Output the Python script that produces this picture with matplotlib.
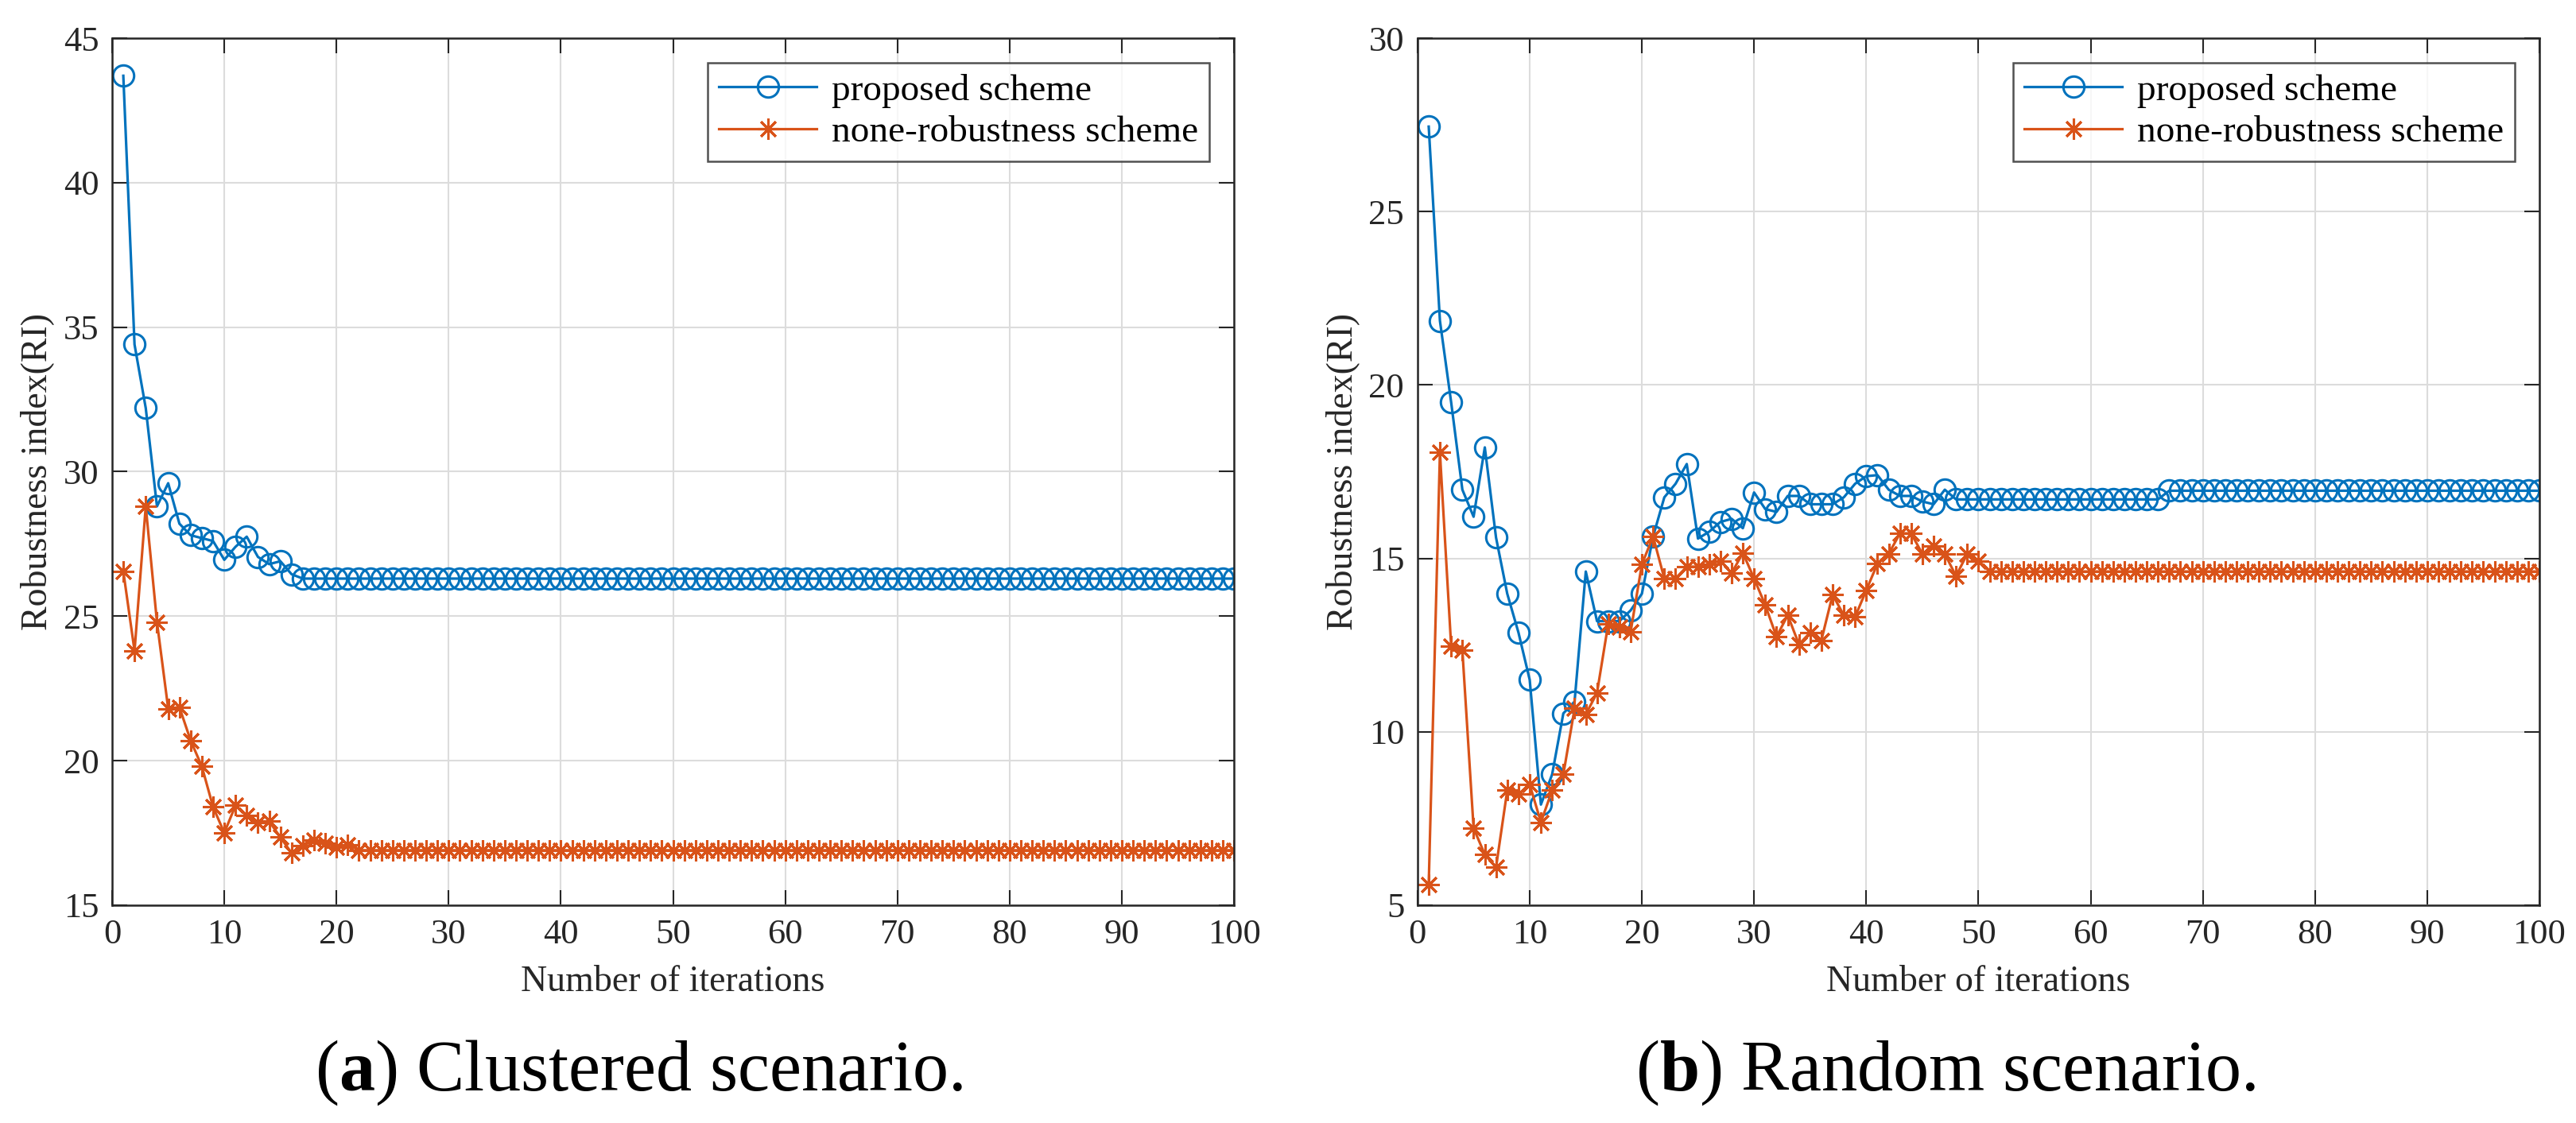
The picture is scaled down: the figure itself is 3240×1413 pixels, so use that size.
import numpy as np
import matplotlib
matplotlib.use("Agg")
import matplotlib.pyplot as plt

iterations = np.arange(1, 101)

# (a) clustered scenario
clustered_proposed = [43.7, 34.4, 32.2, 28.8, 29.6, 28.2, 27.8, 27.7, 27.6, 26.95,
                      27.4, 27.75, 27.05, 26.8, 26.9, 26.45] + [26.3] * 84
clustered_none = [26.55, 23.8, 28.8, 24.8, 21.8, 21.85, 20.7, 19.8, 18.4, 17.5,
                  18.45, 18.1, 17.85, 17.9, 17.35, 16.8, 17.05, 17.25, 17.15, 17.0,
                  17.1] + [16.9] * 79

# (b) random scenario
random_proposed = [27.45, 21.85, 19.5, 16.98, 16.2, 18.2, 15.6, 13.98, 12.86, 11.5,
                   7.9, 8.77, 10.53, 10.87, 14.62, 13.19, 13.19, 13.19, 13.5, 13.98,
                   15.63, 16.76, 17.15, 17.72, 15.57, 15.77, 16.05, 16.14, 15.87, 16.9,
                   16.42, 16.34, 16.8, 16.8, 16.56, 16.56, 16.56, 16.76, 17.15, 17.37,
                   17.4, 16.98, 16.8, 16.8, 16.64, 16.56, 16.98] + [16.7] * 19 + [16.95] * 34
random_none = [5.59, 18.05, 12.47, 12.35, 7.22, 6.46, 6.09, 8.31, 8.2, 8.48,
               7.39, 8.31, 8.77, 10.67, 10.5, 11.12, 13.11, 13.03, 12.89, 14.83,
               15.63, 14.42, 14.42, 14.76, 14.76, 14.83, 14.93, 14.57, 15.16, 14.42,
               13.65, 12.74, 13.36, 12.52, 12.86, 12.64, 13.95, 13.36, 13.31, 14.08,
               14.85, 15.13, 15.72, 15.72, 15.13, 15.35, 15.13, 14.49, 15.13, 14.93] + [14.62] * 50

labels = ['proposed scheme', 'none-robustness scheme']
captions = [('a', ' Clustered scenario.'), ('b', ' Random scenario.')]

blue = '#0072BD'
orange = '#D95319'
serif = ['Liberation Serif', 'DejaVu Serif']
plt.rcParams['font.family'] = serif
plt.rcParams['mathtext.fontset'] = 'custom'
plt.rcParams['mathtext.rm'] = 'Liberation Serif'
plt.rcParams['mathtext.bf'] = 'Liberation Serif:bold'

fig = plt.figure(figsize=(32.41, 14.13), dpi=100)
ax1 = fig.add_axes([0.0435, 0.194, 0.4354, 0.772])
ax2 = fig.add_axes([0.5501, 0.194, 0.4354, 0.772])

asterisk = (8, 2, 0)
panels = [
    (ax1, clustered_proposed, clustered_none, (15, 45), np.arange(15, 46, 5)),
    (ax2, random_proposed, random_none, (5, 30), np.arange(5, 31, 5)),
]

for ax, prop, none, ylim, yticks in panels:
    ax.plot(iterations, prop, color=blue, lw=2.3, marker='o', ms=19,
            mfc='none', mec=blue, mew=2.2, label=labels[0])
    ax.plot(iterations, none, color=orange, lw=2.3, marker=asterisk, ms=19,
            mec=orange, mew=2.2, label=labels[1])
    ax.set_xlim(0, 100)
    ax.set_ylim(*ylim)
    ax.set_xticks(np.arange(0, 101, 10))
    ax.set_yticks(yticks)
    ax.grid(True, color='#dcdcdc', lw=1.5)
    ax.set_axisbelow(True)
    ax.tick_params(direction='in', length=14, width=1.5, top=True, right=True,
                   labelsize=32, colors='#262626', pad=12)
    for sp in ax.spines.values():
        sp.set_linewidth(1.8)
        sp.set_color('#262626')
    ax.set_xlabel('Number of iterations', fontsize=33, color='#262626', labelpad=14)
    ax.set_ylabel('Robustness index(RI)', fontsize=33, color='#262626', labelpad=8)
    leg = ax.legend(loc='upper right', fontsize=34, frameon=True, fancybox=False,
                    edgecolor='#262626', handlelength=2.6, borderpad=0.3,
                    labelspacing=0.2, handletextpad=0.4, borderaxespad=0.65)
    leg.get_frame().set_linewidth(1.8)

for xc, (letter, rest) in zip([0.248, 0.755], captions):
    fig.text(xc, 0.045, r'($\mathbf{' + letter + r'}$)' + rest, fontsize=65,
             ha='center', va='center', color='black')

fig.savefig('out.png', dpi=100, facecolor='white')
